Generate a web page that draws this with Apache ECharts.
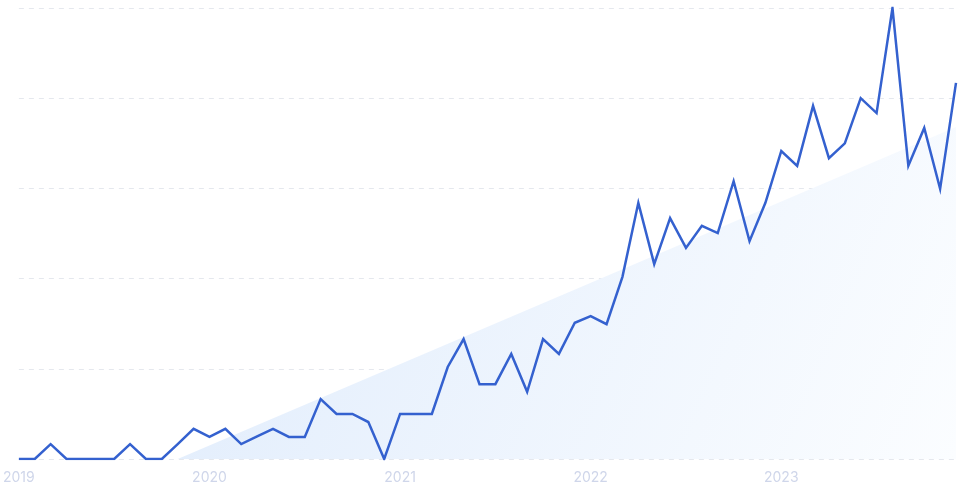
<!DOCTYPE html>
<html>
<head>
<meta charset="utf-8">
<script src="https://cdn.jsdelivr.net/npm/echarts@6/dist/echarts.min.js"></script>
<style>
html,body{margin:0;padding:0;background:#fff;}
#chart{width:961px;height:489px;}
</style>
</head>
<body>
<div id="chart"></div>
<script>
const years = ['2019','2020','2021','2022','2023'];
const months = ['01','02','03','04','05','06','07','08','09','10','11','12'];
const values2019 = [0,0,3.3,0,0,0,0,3.3,0,0,3.3,6.7];
const values2020 = [4.9,6.7,3.3,5,6.7,4.9,4.9,13.3,10,10,8.2,0];
const values2021 = [10,10,10,20.4,26.6,16.6,16.6,23.3,14.9,26.6,23.3,30.2];
const values2022 = [31.7,29.9,40.4,56.8,43.2,53.4,46.8,51.7,50.1,61.6,48.3,56.8];
const values2023 = [68.3,65,78.3,66.7,70,80,76.7,100,65,73.4,59.9,83.4];
// decorative background wedge: [category index, value]
const wedgePoints = [[10,0],[59,73.6]];

const categories = [];
years.forEach(y => months.forEach(m => categories.push(y + '-' + m)));
const values = [].concat(values2019, values2020, values2021, values2022, values2023);

const chart = echarts.init(document.getElementById('chart'));
chart.setOption({
  animation: false,
  backgroundColor: '#ffffff',
  grid: {left: 18, right: 5, top: 8, bottom: 30, containLabel: false},
  xAxis: {
    type: 'category',
    data: categories,
    boundaryGap: false,
    axisLine: {show: false},
    axisTick: {show: false},
    splitLine: {show: false},
    axisLabel: {
      interval: 11,
      margin: 12,
      color: '#cfd6ea',
      fontSize: 14,
      fontFamily: 'Inter, sans-serif',
      formatter: v => v.split('-')[0]
    }
  },
  yAxis: {
    type: 'value',
    min: 0,
    max: 100,
    interval: 20,
    axisLine: {show: false},
    axisTick: {show: false},
    axisLabel: {show: false},
    splitLine: {show: true, lineStyle: {color: '#e5e8ee', type: [5, 5], width: 1}}
  },
  series: [
    {
      type: 'line',
      data: wedgePoints,
      symbol: 'none',
      silent: true,
      z: 1,
      lineStyle: {width: 0},
      areaStyle: {
        opacity: 1,
        color: new echarts.graphic.LinearGradient(0, 0, 1, 1, [
          {offset: 0, color: '#e0ecfc'},
          {offset: 1, color: '#fbfdff'}
        ])
      }
    },
    {
      type: 'line',
      data: values,
      symbol: 'none',
      z: 3,
      lineStyle: {color: '#3461cf', width: 2.5, join: 'miter'}
    }
  ]
});
</script>
</body>
</html>
